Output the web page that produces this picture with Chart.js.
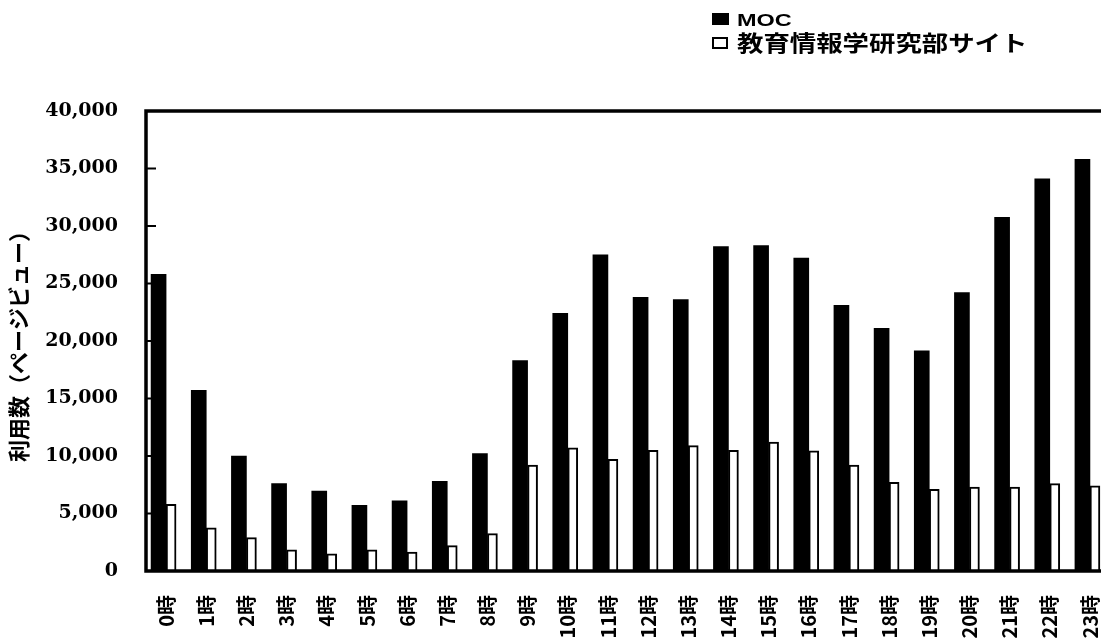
<!DOCTYPE html>
<html>
<head>
<meta charset="utf-8">
<script src="https://cdn.jsdelivr.net/npm/chart.js@4.4.1/dist/chart.umd.min.js"></script>
<style>
  html, body { margin: 0; padding: 0; background: #fff; overflow: hidden; }
  #wrap { position: relative; width: 1138px; height: 660px; }
  #legend { position: absolute; left: 0; top: 0; width: 1101px; height: 60px; pointer-events: none; }
  .mark { position: absolute; box-sizing: border-box; }
  .lbl { position: absolute; white-space: nowrap; transform-origin: 0 0; color: #000; font-weight: bold; }
</style>
</head>
<body>
<div id="wrap">
  <canvas id="chart" width="1138" height="660"></canvas>
  <div id="legend"></div>
</div>
<script>
// Hourly page views, 0時 through 23時
const hours = ['0時','1時','2時','3時','4時','5時','6時','7時','8時','9時','10時','11時',
               '12時','13時','14時','15時','16時','17時','18時','19時','20時','21時','22時','23時'];
const mocViews = [25800, 15700, 10000, 7600, 6950, 5700, 6100, 7800, 10200, 18300, 22400, 27500,
                  23800, 23600, 28200, 28300, 27200, 23100, 21100, 19150, 24200, 30750, 34100, 35800];
const deptViews = [5800, 3750, 2900, 1850, 1500, 1850, 1650, 2200, 3250, 9200, 10700, 9700,
                   10500, 10900, 10500, 11200, 10450, 9200, 7700, 7100, 7300, 7300, 7600, 7400];
const seriesNames = ['MOC', '教育情報学研究部サイト'];
const yTitle = '利用数（ページビュー）';

// Frame around the plot plus short inward tick marks on the value axis
const framePlugin = {
  id: 'frame',
  afterDatasetsDraw(chart) {
    const { ctx, chartArea: a, scales: { y } } = chart;
    ctx.save();
    ctx.strokeStyle = '#000';
    ctx.lineWidth = 2;
    y.ticks.forEach((t, i) => {
      const py = y.getPixelForTick(i);
      ctx.beginPath();
      ctx.moveTo(a.left, py);
      ctx.lineTo(a.left + 10, py);
      ctx.stroke();
    });
    ctx.lineWidth = 3.5;
    ctx.strokeRect(a.left, a.top, a.right - a.left, a.bottom - a.top);
    ctx.restore();
  }
};

const chart = new Chart(document.getElementById('chart'), {
  type: 'bar',
  data: {
    labels: hours,
    datasets: [
      { label: seriesNames[0], data: mocViews, backgroundColor: '#000', borderWidth: 0, barThickness: 15 },
      { label: seriesNames[1], data: deptViews, backgroundColor: '#fff', borderColor: '#000', borderWidth: 2, barThickness: 10 }
    ]
  },
  options: {
    responsive: false,
    animation: false,
    layout: { padding: { top: 111, right: 3, left: 0, bottom: 0 } },
    plugins: { legend: { display: false }, tooltip: { enabled: false } },
    scales: {
      x: {
        grid: { display: false, drawTicks: false },
        border: { display: false },
        ticks: {
          color: '#000',
          autoSkip: false,
          maxRotation: 90,
          minRotation: 90,
          padding: 24,
          font: { family: '"Noto Sans CJK JP"', weight: 'bold', size: 20 }
        },
        afterFit(scale) { scale.height = 89; }
      },
      y: {
        min: 0,
        max: 40000,
        grid: { display: false, drawTicks: false },
        border: { display: false },
        ticks: {
          stepSize: 5000,
          color: '#000',
          padding: 28,
          font: { family: '"DejaVu Serif"', weight: 'bold', size: 19 },
          callback: v => v.toLocaleString('en-US')
        },
        title: {
          display: true,
          text: yTitle,
          color: '#000',
          padding: { top: 5, bottom: 0 },
          font: { family: '"Noto Sans CJK JP"', weight: 'bold', size: 22 }
        },
        afterFit(scale) { scale.width = 146; }
      }
    }
  },
  plugins: [framePlugin]
});

// Legend built from the chart's datasets, stacked at the upper right
const legend = document.getElementById('legend');
const rows = [
  { mark: { left: 712, top: 13, width: 17, height: 12 }, text: { left: 737, top: 12, size: 17, family: '"Liberation Sans"', scale: 1.38 } },
  { mark: { left: 712, top: 37, width: 16, height: 12 }, text: { left: 737, top: 30, size: 22, family: '"Noto Sans CJK JP"', scale: 1.2 } }
];
chart.data.datasets.forEach((ds, i) => {
  const r = rows[i];
  const m = document.createElement('div');
  m.className = 'mark';
  Object.assign(m.style, {
    left: r.mark.left + 'px', top: r.mark.top + 'px',
    width: r.mark.width + 'px', height: r.mark.height + 'px',
    background: ds.backgroundColor,
    border: ds.borderWidth ? ds.borderWidth + 'px solid ' + ds.borderColor : 'none'
  });
  legend.appendChild(m);
  const t = document.createElement('div');
  t.className = 'lbl';
  t.textContent = ds.label;
  Object.assign(t.style, {
    left: r.text.left + 'px', top: r.text.top + 'px',
    fontSize: r.text.size + 'px', lineHeight: r.text.size + 'px',
    fontFamily: r.text.family, transform: 'scaleX(' + r.text.scale + ')'
  });
  legend.appendChild(t);
});
</script>
</body>
</html>
